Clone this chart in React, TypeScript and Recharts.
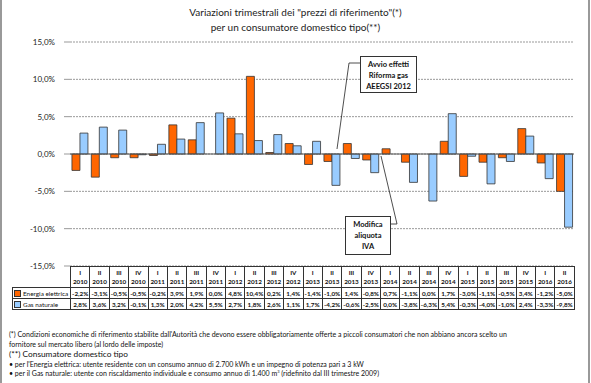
import React from 'react'
import { BarChart, Bar, XAxis, YAxis, CartesianGrid, ReferenceLine } from 'recharts'

const quarterLabels = ['I', 'II', 'III', 'IV', 'I', 'II', 'III', 'IV', 'I', 'II', 'III', 'IV', 'I', 'II', 'III', 'IV', 'I', 'II', 'III', 'IV', 'I', 'II', 'III', 'IV', 'I', 'II']
const yearLabels = ['2010', '2010', '2010', '2010', '2011', '2011', '2011', '2011', '2012', '2012', '2012', '2012', '2013', '2013', '2013', '2013', '2014', '2014', '2014', '2014', '2015', '2015', '2015', '2015', '2016', '2016']
const energia = [-2.2, -3.1, -0.5, -0.5, -0.2, 3.9, 1.9, 0.0, 4.8, 10.4, 0.2, 1.4, -1.4, -1.0, 1.4, -0.8, 0.7, -1.1, 0.0, 1.7, -3.0, -1.1, -0.5, 3.4, -1.2, -5.0]
const gas = [2.8, 3.6, 3.2, -0.1, 1.3, 2.0, 4.2, 5.5, 2.7, 1.8, 2.6, 1.1, 1.7, -4.2, -0.6, -2.5, 0.0, -3.8, -6.3, 5.4, -0.3, -4.0, -1.0, 2.4, -3.3, -9.8]
const yTicks = [-15, -10, -5, 0, 5, 10, 15]

const ORANGE = '#FF6600'
const BLUE = '#99CCFF'
const FONT = 'Lato, "Open Sans", sans-serif'

const data = quarterLabels.map((q, i) => ({
  name: q + ' ' + yearLabels[i],
  energia: energia[i],
  gas: gas[i],
}))

const pct = (v: number) => v.toFixed(1).replace('.', ',') + '%'

const cell: React.CSSProperties = {
  border: '1px solid #333',
  padding: 0,
  textAlign: 'center',
  fontSize: 6.3,
  fontWeight: 700,
  color: '#111',
  lineHeight: '9px',
  whiteSpace: 'nowrap',
  overflow: 'hidden',
}

const legendCell: React.CSSProperties = {
  ...cell,
  textAlign: 'left',
  fontSize: 6.4,
  fontWeight: 400,
  paddingLeft: 1,
}

function DataTable() {
  const colW = 504 / 26
  return (
    <table
      style={{
        position: 'absolute',
        left: 12,
        top: 266,
        width: 562,
        borderCollapse: 'collapse',
        tableLayout: 'fixed',
        fontFamily: FONT,
      }}
    >
      <colgroup>
        <col style={{ width: 58 }} />
        {quarterLabels.map((_, i) => (
          <col key={i} style={{ width: colW }} />
        ))}
      </colgroup>
      <tbody>
        <tr style={{ height: 21 }}>
          <td style={{ border: 'none' }} />
          {quarterLabels.map((q, i) => (
            <td key={i} style={cell}>
              {q}
              <br />
              {yearLabels[i]}
            </td>
          ))}
        </tr>
        <tr style={{ height: 11 }}>
          <td style={legendCell}>
            <span style={{ display: 'inline-block', width: 5, height: 5, background: ORANGE, border: '1px solid #333', marginRight: 2, verticalAlign: -1 }} />
            Energia elettrica
          </td>
          {energia.map((v, i) => (
            <td key={i} style={cell}>{pct(v)}</td>
          ))}
        </tr>
        <tr style={{ height: 11 }}>
          <td style={legendCell}>
            <span style={{ display: 'inline-block', width: 5, height: 5, background: BLUE, border: '1px solid #333', marginRight: 2, verticalAlign: -1 }} />
            Gas naturale
          </td>
          {gas.map((v, i) => (
            <td key={i} style={cell}>{pct(v)}</td>
          ))}
        </tr>
      </tbody>
    </table>
  )
}

const boxStyle: React.CSSProperties = {
  position: 'absolute',
  border: '1px solid #333',
  background: '#fff',
  fontFamily: FONT,
  fontSize: 7.5,
  fontWeight: 700,
  textAlign: 'center',
  lineHeight: '11px',
  color: '#111',
  boxSizing: 'border-box',
  paddingTop: 2,
}

export default function App() {
  return (
    <div
      style={{
        position: 'absolute',
        left: 0,
        top: 0,
        width: 591,
        height: 383,
        background: '#fff',
        overflow: 'hidden',
        fontFamily: FONT,
      }}
    >
      <div style={{ position: 'absolute', left: 0, top: 0, width: 2, height: 383, background: '#999' }} />
      <div style={{ position: 'absolute', left: 588, top: 0, width: 2, height: 383, background: '#999' }} />
      <div style={{ position: 'absolute', left: 0, top: 5, width: 591, textAlign: 'center', fontSize: 10, lineHeight: '15px', color: '#222' }}>
        Variazioni trimestrali dei "prezzi di riferimento"(*)
        <br />
        per un consumatore domestico tipo(**)
      </div>
      <div style={{ position: 'absolute', left: 0, top: 0 }}>
        <BarChart
          width={591}
          height={270}
          data={data}
          margin={{ top: 42, right: 17, left: 2, bottom: 4 }}
          barCategoryGap="10%"
          barGap={0}
        >
          <CartesianGrid vertical={false} stroke="#999" strokeDasharray="2 1" />
          <XAxis dataKey="name" hide />
          <YAxis
            width={68}
            domain={[-15, 15]}
            ticks={yTicks}
            interval={0}
            tickFormatter={pct}
            axisLine={false}
            tickLine={{ stroke: '#999' }}
            tickSize={6}
            tickMargin={9}
            tick={{ fontSize: 8, fill: '#222', fontFamily: FONT }}
          />
          <ReferenceLine y={0} stroke="#555" />
          <Bar dataKey="energia" fill={ORANGE} stroke="#333" strokeWidth={0.8} isAnimationActive={false} />
          <Bar dataKey="gas" fill={BLUE} stroke="#333" strokeWidth={0.8} isAnimationActive={false} />
        </BarChart>
      </div>
      <svg width={591} height={383} style={{ position: 'absolute', left: 0, top: 0, pointerEvents: 'none' }}>
        <polyline points="360,63 349,63 337,149" fill="none" stroke="#222" strokeWidth={0.8} />
        <polyline points="391,224 397,224 381,156" fill="none" stroke="#222" strokeWidth={0.8} />
      </svg>
      <div style={{ ...boxStyle, left: 360, top: 56, width: 57, height: 37 }}>
        Avvio effetti
        <br />
        Riforma gas
        <br />
        AEEGSI 2012
      </div>
      <div style={{ ...boxStyle, left: 345, top: 216, width: 46, height: 39 }}>
        Modifica
        <br />
        aliquota
        <br />
        IVA
      </div>
      <DataTable />
      <div style={{ position: 'absolute', left: 9, top: 329, width: 575, fontSize: 7, lineHeight: '10px', color: '#111' }}>
        <div>
          (*) Condizioni economiche di riferimento stabilite dall'Autorità che devono essere obbligatoriamente offerte a piccoli consumatori che non abbiano ancora scelto un
        </div>
        <div>fornitore sul mercato libero (al lordo delle imposte)</div>
        <div style={{ fontSize: 8.3, lineHeight: '11px' }}>(**) Consumatore domestico tipo</div>
        <div style={{ lineHeight: '9px' }}>• per l'Energia elettrica: utente residente con un consumo annuo di 2.700 kWh e un impegno di potenza pari a 3 kW</div>
        <div style={{ lineHeight: '9px' }}>
          • per il Gas naturale: utente con riscaldamento individuale e consumo annuo di 1.400 m<sup style={{ fontSize: 4, lineHeight: 0 }}>3</sup> (ridefinito dal III trimestre 2009)
        </div>
      </div>
    </div>
  )
}
